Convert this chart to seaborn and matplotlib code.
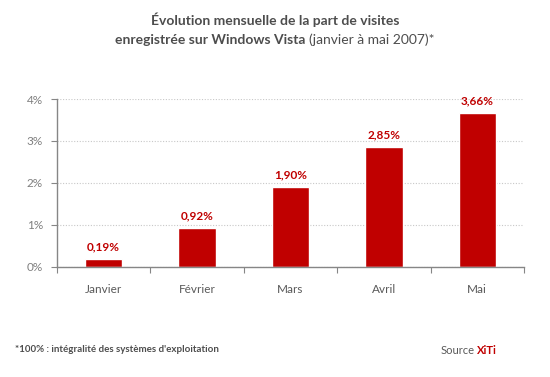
import matplotlib
matplotlib.use("Agg")
import matplotlib.pyplot as plt
import seaborn as sns
import pandas as pd

months = ["Janvier", "Février", "Mars", "Avril", "Mai"]
share = [0.19, 0.92, 1.90, 2.85, 3.66]
value_labels = ["0,19%", "0,92%", "1,90%", "2,85%", "3,66%"]
y_ticks = [0, 1, 2, 3, 4]
y_tick_labels = ["0%", "1%", "2%", "3%", "4%"]

RED = "#c00000"
GREY = "#595959"
DARK = "#4d4d4d"
FONT = ["Lato", "DejaVu Sans"]


def main():
    sns.set_style("white")
    plt.rcParams["font.family"] = FONT

    df = pd.DataFrame({"mois": months, "part": share})

    fig = plt.figure(figsize=(5.5, 3.77), dpi=100)
    ax = fig.add_axes([0.1036, 0.2918, 0.8491, 0.4456])
    sns.barplot(data=df, x="mois", y="part", color=RED, width=0.4,
                saturation=1, ax=ax)

    ax.set_xlim(-0.5, len(months) - 0.5)
    ax.set_ylim(0, 4)
    ax.set_xlabel("")
    ax.set_ylabel("")

    # value labels above bars
    for i, (v, lab) in enumerate(zip(share, value_labels)):
        ax.text(i, v + 0.17, lab, ha="center", va="bottom", color=RED,
                fontsize=8.5, fontweight="bold")

    # x ticks at category boundaries, labels at centres
    ax.set_xticks([i - 0.5 for i in range(len(months) + 1)])
    ax.set_xticklabels([])
    ax.set_xticks(range(len(months)), minor=True)
    ax.set_xticklabels(months, minor=True)
    ax.tick_params(axis="x", which="major", length=4, color="#868686",
                   direction="out", bottom=True)
    ax.tick_params(axis="x", which="minor", length=0, pad=12,
                   labelsize=8.5, labelcolor=GREY)

    ax.set_yticks(y_ticks)
    ax.set_yticklabels(y_tick_labels)
    ax.tick_params(axis="y", length=4, color="#868686", direction="out",
                   left=True, labelsize=8.5, labelcolor="#7f7f7f", pad=6)

    ax.yaxis.grid(True, linestyle=(0, (1, 1.5)), color="#c8c8c8", linewidth=0.8)
    ax.set_axisbelow(True)
    for side in ["top", "right"]:
        ax.spines[side].set_visible(False)
    for side in ["left", "bottom"]:
        ax.spines[side].set_color("#868686")
        ax.spines[side].set_linewidth(1)

    # title (mixed weights)
    fig.text(0.5, 1 - 20 / 377, "Évolution mensuelle de la part de visites",
             ha="center", va="center", fontsize=10, fontweight="bold", color=DARK)
    r = fig.canvas.get_renderer()
    t1 = fig.text(0, 1 - 40 / 377, "enregistrée sur Windows Vista ",
                  ha="left", va="center", fontsize=10, fontweight="bold", color=DARK)
    t2 = fig.text(0, 1 - 40 / 377, "(janvier à mai 2007)*",
                  ha="left", va="center", fontsize=10, color=DARK)
    w1 = t1.get_window_extent(r).width
    w2 = t2.get_window_extent(r).width
    x0 = (fig.bbox.width - w1 - w2) / 2
    t1.set_x(x0 / fig.bbox.width)
    t2.set_x((x0 + w1) / fig.bbox.width)

    # footnote and source
    fig.text(15 / 550, 1 - 350 / 377, "*100% : intégralité des systèmes d'exploitation",
             ha="left", va="center", fontsize=7, fontweight="bold", color=DARK)
    s2 = fig.text(497 / 550, 1 - 350 / 377, "XiTi", ha="right", va="center",
                  fontsize=8, fontweight="bold", color=RED)
    ws = s2.get_window_extent(r).width
    fig.text((497 - ws - 3) / 550, 1 - 350 / 377, "Source", ha="right",
             va="center", fontsize=8, color=GREY)

    fig.savefig("out.png", dpi=100)


if __name__ == "__main__":
    main()
